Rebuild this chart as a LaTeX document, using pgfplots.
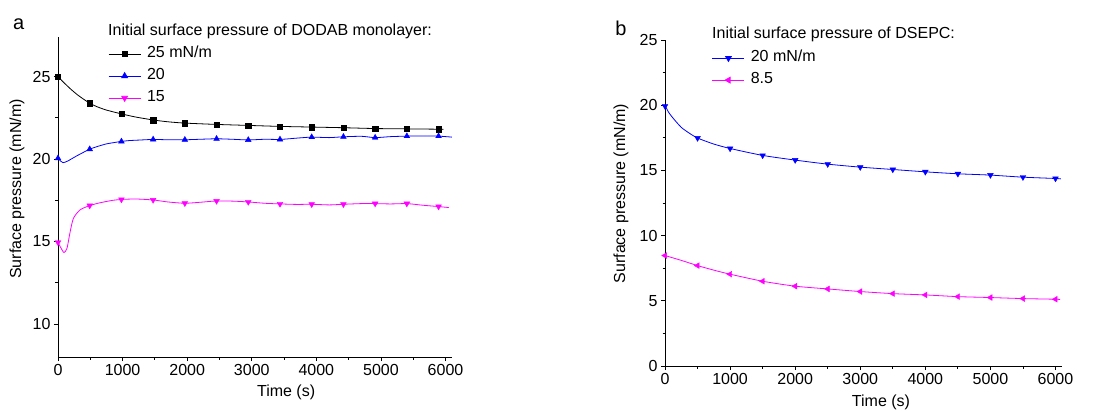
\documentclass[border=0pt]{standalone}
\usepackage{fontspec}
\setmainfont{Liberation Sans}
\usepackage{pgfplots}
\pgfplotsset{compat=1.18}
\definecolor{oblue}{RGB}{0,0,255}
\definecolor{omag}{RGB}{255,0,255}
\newcommand{\fs}{\fontsize{16}{19}\selectfont}

\pgfplotsset{
  panel/.style={
    scale only axis,
    axis x line*=bottom, axis y line*=left,
    axis line style={line width=0.8pt,-},
    tick align=outside,
    major tick length=4pt, minor tick length=2.5pt,
    every tick/.style={line width=0.8pt, black},
    xmin=0, xmax=6100,
    xtick={0,1000,...,6000},
    minor x tick num=1, minor y tick num=1,
    scaled ticks=false,
    /pgf/number format/assume math mode=true,
    /pgf/number format/1000 sep={},
    tick label style={font=\fs},
    xlabel={Time (s)}, ylabel={Surface pressure (mN/m)},
    legend style={draw=none, fill=none, inner sep=0pt, row sep=7pt,
      column sep=6pt, font=\fs,
      nodes={inner sep=0pt, text height=11pt, text depth=4pt}},
    legend cell align=left,
    legend image code/.code={\draw[mark repeat=2,mark phase=2]
      plot coordinates {(0pt,0pt) (16pt,0pt) (32pt,0pt)};},
  },
  ln/.style={line width=0.8pt, no marks, smooth, tension=0.4, forget plot},
  mk/.style={only marks, forget plot},
}

\begin{document}
\begin{tikzpicture}
\useasboundingbox (0,0) rectangle (1097pt,-411pt);

% ---------------- panel a
\begin{axis}[panel,
  at={(58pt,-357pt)}, anchor=south west,
  width=394pt, height=320pt,
  ymin=8, ymax=27.4, ytick={10,15,20,25},
  every axis y label/.style={at={(axis description cs:-0.104,0.525)}, rotate=90, anchor=center, font=\fs},
  every axis x label/.style={at={(axis description cs:0.579,-0.109)}, anchor=center, font=\fs},
  legend style={at={(0.127,0.971)}, anchor=north west},
]
% 25 mN/m
\addplot[ln, black] coordinates {
 (0,25.0)(100,24.6)(200,24.23)(300,23.9)(400,23.62)(491,23.39)(600,23.18)
 (750,22.97)(982,22.74)(1200,22.55)(1473,22.37)(1700,22.26)(1964,22.18)
 (2455,22.10)(2946,22.04)(3437,21.98)(3928,21.94)(4419,21.90)(4910,21.85)
 (5401,21.83)(5892,21.81)(5965,21.80)};
\addplot[mk, black, mark=square*, mark size=2.7pt] coordinates {
 (0,25.0)(491,23.39)(982,22.74)(1473,22.36)(1964,22.18)(2455,22.10)(2946,22.04)
 (3437,21.98)(3928,21.94)(4419,21.90)(4910,21.85)(5401,21.83)(5892,21.81)};
% 20
\addplot[ln, oblue] coordinates {
 (0,20.05)(40,19.88)(78,19.78)(150,19.88)(284,20.18)(400,20.42)(491,20.6)
 (600,20.75)(750,20.92)(900,21.02)(982,21.07)(1100,21.12)(1250,21.15)
 (1473,21.19)(1700,21.17)(1964,21.17)(2200,21.2)(2455,21.23)(2700,21.2)
 (2946,21.16)(3200,21.2)(3437,21.19)(3700,21.27)(3928,21.33)(4200,21.3)
 (4419,21.35)(4700,21.38)(4910,21.3)(5150,21.36)(5401,21.39)(5650,21.4)
 (5892,21.39)(6100,21.33)};
\addplot[mk, oblue, mark=triangle*, mark size=3.3pt] coordinates {
 (0,20.05)(491,20.6)(982,21.07)(1473,21.19)(1964,21.17)(2455,21.23)(2946,21.16)
 (3437,21.19)(3928,21.33)(4419,21.35)(4910,21.3)(5401,21.39)(5892,21.39)};
% 15
\addplot[ln, omag] coordinates {
 (0,14.95)(40,14.65)(93,14.33)(140,14.6)(186,15.55)(238,16.4)(341,16.92)
 (491,17.18)(650,17.35)(850,17.5)(982,17.55)(1200,17.58)(1473,17.52)
 (1700,17.4)(1964,17.32)(2200,17.38)(2455,17.46)(2700,17.45)(2946,17.4)
 (3200,17.32)(3437,17.28)(3700,17.25)(3928,17.26)(4200,17.22)(4419,17.26)
 (4700,17.3)(4910,17.3)(5150,17.28)(5401,17.3)(5650,17.2)(5892,17.12)(6050,17.06)};
\addplot[mk, omag, mark=triangle*, mark size=3.3pt, mark options={rotate=180}] coordinates {
 (0,14.95)(491,17.18)(982,17.55)(1473,17.52)(1964,17.32)(2455,17.46)(2946,17.4)
 (3437,17.28)(3928,17.26)(4419,17.26)(4910,17.3)(5401,17.3)(5892,17.12)};

\addlegendimage{black, line width=0.8pt, mark=square*, mark size=2.7pt}
\addlegendentry{25 mN/m}
\addlegendimage{oblue, line width=0.8pt, mark=triangle*, mark size=3.3pt}
\addlegendentry{20}
\addlegendimage{omag, line width=0.8pt, mark=triangle*, mark size=3.3pt, mark options={rotate=180}}
\addlegendentry{15}
\end{axis}

% ---------------- panel b
\begin{axis}[panel,
  at={(665pt,-366pt)}, anchor=south west,
  width=397pt, height=326pt,
  ymin=0, ymax=25, ytick={0,5,...,25},
  every axis y label/.style={at={(axis description cs:-0.111,0.529)}, rotate=90, anchor=center, font=\fs},
  every axis x label/.style={at={(axis description cs:0.544,-0.113)}, anchor=center, font=\fs},
  legend style={at={(0.118,0.968)}, anchor=north west},
]
% 20 mN/m
\addplot[ln, oblue] coordinates {
 (0,20.0)(50,19.5)(125,19.0)(250,18.3)(375,17.85)(500,17.48)(750,17.02)
 (1000,16.68)(1500,16.15)(2000,15.79)(2500,15.48)(3000,15.25)(3500,15.07)
 (4000,14.89)(4500,14.74)(5000,14.64)(5500,14.48)(6000,14.38)(6083,14.35)};
\addplot[mk, oblue, mark=triangle*, mark size=3.3pt, mark options={rotate=180}] coordinates {
 (0,19.93)(500,17.48)(1000,16.68)(1500,16.15)(2000,15.79)(2500,15.48)(3000,15.25)
 (3500,15.07)(4000,14.89)(4500,14.74)(5000,14.64)(5500,14.48)(6000,14.38)};
% 8.5
\addplot[ln, omag] coordinates {
 (0,8.47)(250,8.1)(500,7.70)(750,7.35)(1000,7.04)(1500,6.50)(2000,6.12)
 (2500,5.91)(3000,5.71)(3500,5.55)(4000,5.45)(4500,5.32)(5000,5.25)
 (5500,5.17)(6000,5.12)(6070,5.10)};
\addplot[mk, omag, mark=triangle*, mark size=3.3pt, mark options={rotate=90}] coordinates {
 (0,8.47)(500,7.70)(1000,7.04)(1500,6.50)(2000,6.12)(2500,5.91)(3000,5.71)
 (3500,5.55)(4000,5.45)(4500,5.32)(5000,5.25)(5500,5.17)(6000,5.12)};

\addlegendimage{oblue, line width=0.8pt, mark=triangle*, mark size=3.3pt, mark options={rotate=180}}
\addlegendentry{20 mN/m}
\addlegendimage{omag, line width=0.8pt, mark=triangle*, mark size=3.3pt, mark options={rotate=90}}
\addlegendentry{8.5}
\end{axis}

% titles and panel letters
\node[anchor=base west, inner sep=0pt, font=\fs] at (108pt,-35.4pt) {Initial surface pressure of DODAB monolayer:};
\node[anchor=base west, inner sep=0pt, font=\fs] at (712pt,-38.4pt) {Initial surface pressure of DSEPC:};
\node[anchor=base, inner sep=0pt, font=\fontsize{20}{24}\selectfont] at (18.7pt,-30pt) {a};
\node[anchor=base, inner sep=0pt, font=\fontsize{20}{24}\selectfont] at (621pt,-35.7pt) {b};
\end{tikzpicture}
\end{document}
